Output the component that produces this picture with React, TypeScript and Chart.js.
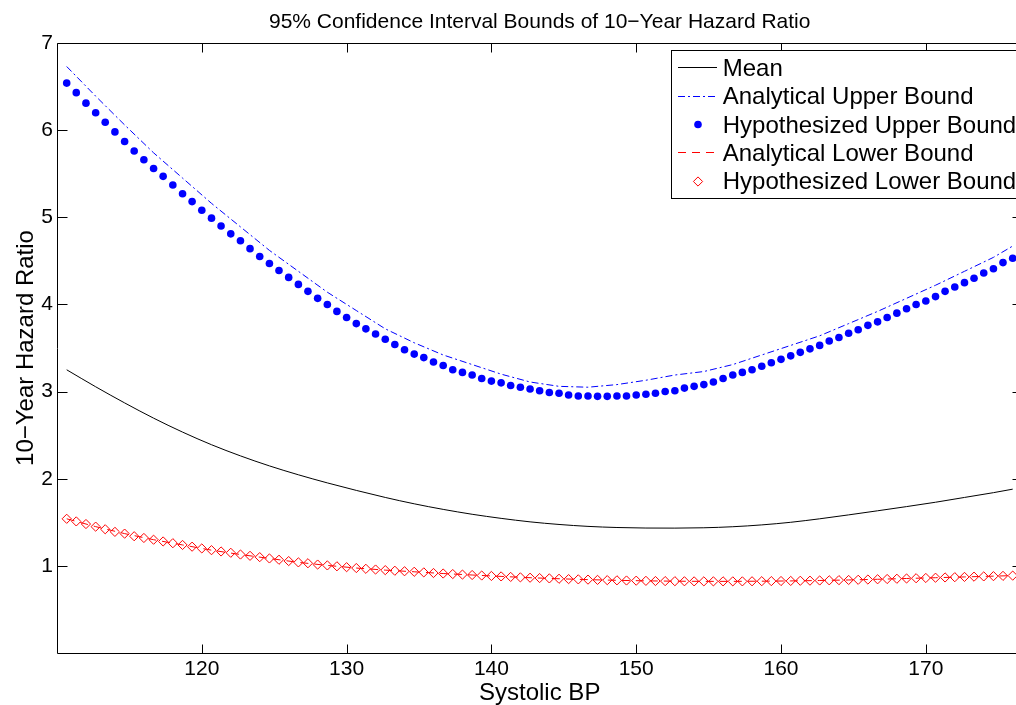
import { useEffect, useRef } from "react";
import { Chart, registerables } from "chart.js";

Chart.register(...registerables);

// Systolic BP sample grid (step 2/3 mmHg)
const SBP = [
  110.67, 111.33, 112, 112.67, 113.33, 114, 114.67, 115.33, 116, 116.67,
  117.33, 118, 118.67, 119.33, 120, 120.67, 121.33, 122, 122.67, 123.33,
  124, 124.67, 125.33, 126, 126.67, 127.33, 128, 128.67, 129.33, 130,
  130.67, 131.33, 132, 132.67, 133.33, 134, 134.67, 135.33, 136, 136.67,
  137.33, 138, 138.67, 139.33, 140, 140.67, 141.33, 142, 142.67, 143.33,
  144, 144.67, 145.33, 146, 146.67, 147.33, 148, 148.67, 149.33, 150,
  150.67, 151.33, 152, 152.67, 153.33, 154, 154.67, 155.33, 156, 156.67,
  157.33, 158, 158.67, 159.33, 160, 160.67, 161.33, 162, 162.67, 163.33,
  164, 164.67, 165.33, 166, 166.67, 167.33, 168, 168.67, 169.33, 170,
  170.67, 171.33, 172, 172.67, 173.33, 174, 174.67, 175.33, 176,
];

// Coarser grid used for the mean and the analytical bounds (step 2 mmHg)
const SBP_COARSE = [
  110.67, 112.67, 114.67, 116.67, 118.67, 120.67, 122.67, 124.67, 126.67, 128.67,
  130.67, 132.67, 134.67, 136.67, 138.67, 140.67, 142.67, 144.67, 146.67, 148.67,
  150.67, 152.67, 154.67, 156.67, 158.67, 160.67, 162.67, 164.67, 166.67, 168.67,
  170.67, 172.67, 174.67, 176,
];

const meanHR = [
  3.25, 3.055, 2.87, 2.695, 2.535, 2.39, 2.262, 2.147, 2.045, 1.952,
  1.866, 1.785, 1.712, 1.648, 1.592, 1.545, 1.505, 1.475, 1.453, 1.44,
  1.434, 1.433, 1.437, 1.449, 1.47, 1.50, 1.54, 1.585, 1.632, 1.68,
  1.73, 1.785, 1.84, 1.88,
];

const analyticalUpper = [
  6.73, 6.39, 6.06, 5.74, 5.45, 5.16, 4.89, 4.62, 4.38, 4.14,
  3.93, 3.72, 3.56, 3.42, 3.31, 3.20, 3.11, 3.06, 3.05, 3.08,
  3.13, 3.19, 3.23, 3.31, 3.42, 3.53, 3.64, 3.78, 3.92, 4.07,
  4.22, 4.38, 4.54, 4.67,
];

const hypothesizedUpper = [
  6.54, 6.43, 6.31, 6.20, 6.09, 5.98, 5.87, 5.76, 5.66, 5.56,
  5.47, 5.37, 5.27, 5.18, 5.08, 4.99, 4.90, 4.81, 4.73, 4.64,
  4.55, 4.47, 4.39, 4.31, 4.23, 4.15, 4.07, 4.00, 3.92, 3.85,
  3.78, 3.72, 3.66, 3.60, 3.54, 3.48, 3.43, 3.39, 3.34, 3.30,
  3.25, 3.22, 3.19, 3.15, 3.12, 3.10, 3.07, 3.05, 3.03, 3.01,
  2.99, 2.98, 2.96, 2.95, 2.95, 2.945, 2.945, 2.95, 2.95, 2.96,
  2.97, 2.98, 3.00, 3.01, 3.04, 3.06, 3.08, 3.11, 3.15, 3.19,
  3.22, 3.25, 3.29, 3.33, 3.37, 3.41, 3.45, 3.49, 3.53, 3.58,
  3.62, 3.67, 3.71, 3.76, 3.80, 3.85, 3.90, 3.95, 4.00, 4.04,
  4.09, 4.15, 4.20, 4.25, 4.30, 4.36, 4.41, 4.48, 4.53,
];

const analyticalLower = [
  1.54, 1.45, 1.37, 1.30, 1.24, 1.18, 1.13, 1.085, 1.04, 1.005,
  0.975, 0.951, 0.932, 0.912, 0.895, 0.879, 0.864, 0.852, 0.842, 0.834,
  0.828, 0.824, 0.822, 0.822, 0.824, 0.827, 0.832, 0.838, 0.846, 0.855,
  0.864, 0.873, 0.882, 0.888,
];

const hypothesizedLower = [
  1.54, 1.51, 1.48, 1.45, 1.42, 1.39, 1.37, 1.34, 1.32, 1.30,
  1.28, 1.26, 1.24, 1.22, 1.20, 1.18, 1.165, 1.15, 1.13, 1.115,
  1.10, 1.085, 1.07, 1.055, 1.04, 1.03, 1.015, 1.005, 0.995, 0.985,
  0.975, 0.966, 0.958, 0.951, 0.944, 0.938, 0.932, 0.925, 0.918, 0.912,
  0.906, 0.900, 0.895, 0.889, 0.884, 0.879, 0.873, 0.868, 0.864, 0.860,
  0.856, 0.852, 0.848, 0.845, 0.842, 0.839, 0.836, 0.834, 0.832, 0.830,
  0.828, 0.826, 0.825, 0.824, 0.823, 0.822, 0.822, 0.822, 0.822, 0.822,
  0.822, 0.823, 0.824, 0.825, 0.826, 0.827, 0.829, 0.830, 0.832, 0.834,
  0.836, 0.838, 0.840, 0.843, 0.846, 0.849, 0.852, 0.855, 0.858, 0.861,
  0.864, 0.867, 0.870, 0.873, 0.876, 0.879, 0.882, 0.885, 0.888,
];

const X_TICKS = [120, 130, 140, 150, 160, 170];
const Y_TICKS = [1, 2, 3, 4, 5, 6, 7];

const TITLE = "95% Confidence Interval Bounds of 10\u2212Year Hazard Ratio";
const X_TITLE = "Systolic BP";
const Y_TITLE = "10\u2212Year Hazard Ratio";

const FONT = "'Liberation Sans', Arial, Helvetica, sans-serif";
const BLUE = "rgb(0,0,255)";
const RED = "rgb(255,0,0)";
const DASH_DOT = [7, 3, 2, 3];
const DASHED = [8, 6];

const pts = (xs: number[], ys: number[]) => ys.map((y, i) => ({ x: xs[i], y }));

// Box frame with inward ticks, titles and a boxed legend
const framePlugin = {
  id: "frame",
  afterDraw(chart: any) {
    const { ctx, chartArea: a, scales } = chart;
    const xs = scales.x;
    const ys = scales.y;
    const L = Math.round(a.left) + 0.5;
    const T = Math.round(a.top) + 0.5;
    const B = Math.round(a.bottom) + 0.5;
    const R = Math.round(a.right) + 0.5;

    ctx.save();
    ctx.strokeStyle = "#000";
    ctx.lineWidth = 1;
    ctx.setLineDash([]);
    ctx.beginPath();
    ctx.moveTo(L, T);
    ctx.lineTo(R, T);
    ctx.lineTo(R, B);
    ctx.lineTo(L, B);
    ctx.closePath();
    X_TICKS.forEach((v) => {
      const p = Math.round(xs.getPixelForValue(v)) + 0.5;
      ctx.moveTo(p, B);
      ctx.lineTo(p, B - 9);
      ctx.moveTo(p, T);
      ctx.lineTo(p, T + 9);
    });
    Y_TICKS.forEach((v) => {
      const p = Math.round(ys.getPixelForValue(v)) + 0.5;
      ctx.moveTo(L, p);
      ctx.lineTo(L + 10, p);
      ctx.moveTo(R, p);
      ctx.lineTo(R - 10, p);
    });
    ctx.stroke();

    // titles
    const cx = (a.left + a.right) / 2;
    ctx.fillStyle = "#000";
    ctx.textAlign = "center";
    ctx.textBaseline = "alphabetic";
    ctx.font = `21px ${FONT}`;
    ctx.fillText(TITLE, cx, 28);
    ctx.font = `24px ${FONT}`;
    ctx.fillText(X_TITLE, cx, 700);
    ctx.save();
    ctx.translate(33, (a.top + a.bottom) / 2);
    ctx.rotate(-Math.PI / 2);
    ctx.fillText(Y_TITLE, 0, 0);
    ctx.restore();

    // legend
    const boxL = 671.5;
    const boxT = 50.5;
    const boxB = 198.5;
    ctx.fillStyle = "#fff";
    ctx.fillRect(boxL, boxT, 1040 - boxL, boxB - boxT);
    ctx.strokeStyle = "#000";
    ctx.strokeRect(boxL, boxT, 1040 - boxL, boxB - boxT);

    const rowBase = [75.7, 104.1, 132.5, 160.9, 189.3];
    const ds = chart.data.datasets;
    ctx.font = `24px ${FONT}`;
    ctx.textAlign = "left";
    ds.forEach((d: any, i: number) => {
      const yb = rowBase[i];
      const ym = Math.round(yb - 8.6) + 0.5;
      if (d.showLine !== false) {
        ctx.strokeStyle = d.borderColor;
        ctx.lineWidth = 1;
        ctx.setLineDash(d.borderDash || []);
        ctx.beginPath();
        ctx.moveTo(678, ym);
        ctx.lineTo(717, ym);
        ctx.stroke();
        ctx.setLineDash([]);
      } else if (d.pointStyle === "circle") {
        ctx.fillStyle = d.pointBackgroundColor;
        ctx.beginPath();
        ctx.arc(698, ym, d.pointRadius, 0, Math.PI * 2);
        ctx.fill();
      } else {
        const r = d.pointRadius;
        ctx.strokeStyle = d.pointBorderColor;
        ctx.lineWidth = 1;
        ctx.beginPath();
        ctx.moveTo(698 - r, ym);
        ctx.lineTo(698, ym - r);
        ctx.lineTo(698 + r, ym);
        ctx.lineTo(698, ym + r);
        ctx.closePath();
        ctx.stroke();
      }
      ctx.fillStyle = "#000";
      ctx.fillText(d.label, 722.7, yb);
    });
    ctx.restore();
  },
};

export default function App() {
  const canvasRef = useRef<HTMLCanvasElement | null>(null);

  useEffect(() => {
    const canvas = canvasRef.current;
    if (!canvas) return;
    const chart = new Chart(canvas, {
      type: "line",
      data: {
        datasets: [
          {
            label: "Mean",
            data: pts(SBP_COARSE, meanHR),
            borderColor: "#000",
            borderWidth: 1,
            pointRadius: 0,
            cubicInterpolationMode: "monotone",
            order: 5,
          },
          {
            label: "Analytical Upper Bound",
            data: pts(SBP_COARSE, analyticalUpper),
            borderColor: BLUE,
            borderWidth: 1,
            borderDash: DASH_DOT,
            pointRadius: 0,
            tension: 0,
            order: 4,
          },
          {
            label: "Hypothesized Upper Bound",
            data: pts(SBP, hypothesizedUpper),
            showLine: false,
            pointStyle: "circle",
            pointRadius: 3.8,
            pointBackgroundColor: BLUE,
            pointBorderColor: BLUE,
            pointBorderWidth: 0,
            borderColor: BLUE,
            order: 3,
          },
          {
            label: "Analytical Lower Bound",
            data: pts(SBP_COARSE, analyticalLower),
            borderColor: RED,
            borderWidth: 1,
            borderDash: DASHED,
            pointRadius: 0,
            tension: 0,
            order: 2,
          },
          {
            label: "Hypothesized Lower Bound",
            data: pts(SBP, hypothesizedLower),
            showLine: false,
            pointStyle: "rectRot",
            pointRadius: 4.6,
            pointBackgroundColor: "rgba(0,0,0,0)",
            pointBorderColor: RED,
            pointBorderWidth: 1,
            borderColor: RED,
            order: 1,
          },
        ],
      },
      options: {
        animation: false,
        responsive: false,
        devicePixelRatio: 1,
        layout: { padding: { top: 43, left: 0, right: 1, bottom: 0 } },
        plugins: {
          legend: { display: false },
          title: { display: false },
          tooltip: { enabled: false },
        },
        elements: { line: { borderCapStyle: "butt" } },
        scales: {
          x: {
            type: "linear",
            min: 110,
            max: 176.67,
            grid: { display: false, drawTicks: false },
            border: { display: false },
            afterFit: (s: any) => {
              s.height = 52;
            },
            afterBuildTicks: (s: any) => {
              s.ticks = X_TICKS.map((v) => ({ value: v }));
            },
            ticks: {
              padding: 4,
              color: "#000",
              font: { family: FONT, size: 21 },
              maxRotation: 0,
              autoSkip: false,
              callback: (v: any) => String(v),
            },
          },
          y: {
            type: "linear",
            min: 0,
            max: 7,
            grid: { display: false, drawTicks: false },
            border: { display: false },
            afterFit: (s: any) => {
              s.width = 57;
            },
            afterBuildTicks: (s: any) => {
              s.ticks = Y_TICKS.map((v) => ({ value: v }));
            },
            ticks: {
              padding: 4,
              color: "#000",
              font: { family: FONT, size: 21 },
              autoSkip: false,
              callback: (v: any) => String(v),
            },
          },
        },
      },
      plugins: [framePlugin],
    });
    return () => chart.destroy();
  }, []);

  return (
    <div
      style={{
        position: "fixed",
        left: 0,
        top: 0,
        width: 1016,
        height: 705,
        overflow: "hidden",
        background: "#fff",
      }}
    >
      <canvas
        ref={canvasRef}
        width={1028}
        height={705}
        style={{ display: "block", width: 1028, height: 705 }}
      />
    </div>
  );
}
